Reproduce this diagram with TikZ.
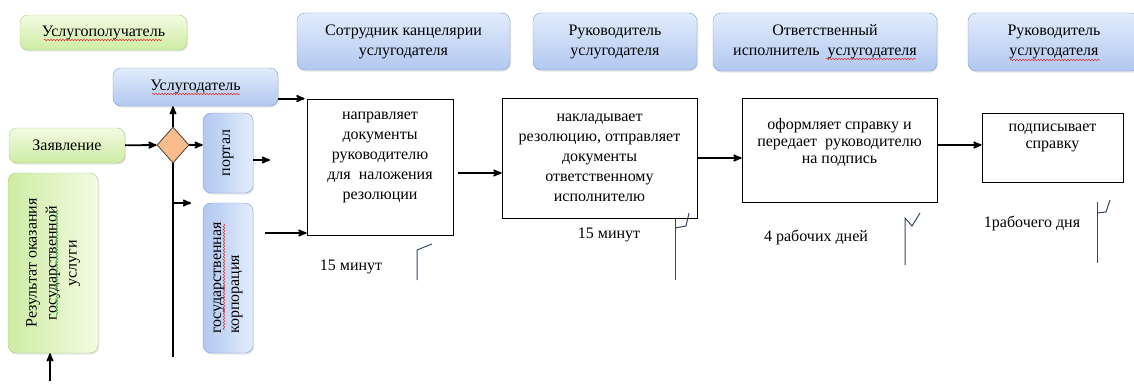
\documentclass[tikz,border=0pt]{standalone}
\usepackage{fontspec}
\setmainfont{Liberation Serif}
\usetikzlibrary{positioning}
\usetikzlibrary{arrows}
\usetikzlibrary{shapes.geometric}
\usetikzlibrary{shadows}
\usetikzlibrary{decorations.pathmorphing}
\definecolor{bluetop}{RGB}{226,236,252}
\definecolor{bluebot}{RGB}{178,200,240}
\definecolor{bluerim}{RGB}{128,158,208}
\definecolor{greentop}{RGB}{242,251,226}
\definecolor{greenbot}{RGB}{206,236,164}
\definecolor{greenrim}{RGB}{172,204,136}
\definecolor{rhombfill}{RGB}{250,188,140}
\definecolor{flagline}{RGB}{52,70,100}
\definecolor{spellred}{RGB}{225,50,50}
\definecolor{spellgreen}{RGB}{50,170,70}
\tikzset{x=1pt, y=-1pt, % One unit is one pixel, y grows downwards
every node/.style={ % Sets the text of each node
font=\fontsize{16}{20}\selectfont,
align=center},
phase/.style={ % Blue boxes, the people who do the work
draw=bluerim,
rounded corners=8pt,
top color=bluetop, bottom color=bluebot,
drop shadow={opacity=0.2, shadow xshift=1pt, shadow yshift=-1.5pt}},
sidephase/.style={ % Blue boxes with the text turned
phase,
rotate=90,
left color=bluebot, right color=bluetop},
party/.style={ % Green boxes
draw=greenrim,
rounded corners=8pt,
top color=greentop, bottom color=greenbot,
drop shadow={opacity=0.2, shadow xshift=1pt, shadow yshift=-1.5pt}},
sideparty/.style={ % Green box with the text turned
party,
rotate=90,
left color=greenbot, right color=greentop},
stepbox/.style={ % White boxes, the steps of the work
draw,
thick,
fill=white},
choice/.style={ % Orange rhomb
diamond,
draw=black!75,
thick,
fill=rhombfill,
minimum width=32pt, minimum height=36pt, inner sep=0pt},
arr/.style={ % Thick arrows
draw,
->,>=stealth',
line width=1.8pt},
timing/.style={ % Time flags under the steps
draw=flagline,
line width=1pt},
spell/.style={ % Wavy spell checker lines under some words
decorate,
decoration={snake, amplitude=0.7pt, segment length=3pt},
line width=0.6pt}}

\begin{document}
\begin{tikzpicture}
\useasboundingbox (0,0) rectangle (1134,383);

\node[party, minimum width=167pt, minimum height=35pt] (rcpt) at (103.5,32.5) {Услугополучатель};
\node[phase, minimum width=165pt, minimum height=38pt] (prov) at (195.5,87) {Услугодатель};
\node[party, minimum width=116pt, minimum height=35pt] (appl) at (67,145.5) {Заявление};
\node[choice] (dia) at (173,145) {};
\node[sidephase, minimum width=80pt, minimum height=50pt] (portal) at (228,153) {портал};
\node[sidephase, minimum width=150pt, minimum height=50pt, align=left, font=\fontsize{16}{18}\selectfont] (corp) at (228,278) {государственная\\корпорация};
\node[sideparty, minimum width=180pt, minimum height=90pt] (result) at (53,263) {Результат оказания\\государственной\\услуги};

\node[phase, minimum width=213pt, minimum height=57pt] (clerk) at (403.5,41.5) {Сотрудник канцелярии\\услугодателя};
\node[phase, minimum width=164pt, minimum height=57pt] (head) at (615,41.5) {Руководитель\\услугодателя};
\node[phase, minimum width=224pt, minimum height=58pt] (exec) at (825,42) {Ответственный\\исполнитель\ \ услугодателя};
\node[phase, minimum width=172pt, minimum height=58pt] (head2) at (1054,42) {Руководитель\\услугодателя};

\node[stepbox, minimum width=146pt, minimum height=136pt, text depth=23pt] (b1) at (380,167) {направляет\\документы\\руководителю\\для\ \ наложения\\резолюции};
\node[stepbox, minimum width=195pt, minimum height=120pt] (b2) at (599.5,158) {накладывает\\резолюцию, отправляет\\документы\\ответственному\\исполнителю};
\node[stepbox, minimum width=195pt, minimum height=104pt, text depth=18pt, font=\fontsize{16}{17}\selectfont] (b3) at (839.5,150) {оформляет справку и\\передает\ \ руководителю\\на подпись};
\node[stepbox, minimum width=141pt, minimum height=69pt, text depth=22pt, font=\fontsize{16}{17}\selectfont] (b4) at (1052.5,147.5) {подписывает\\справку};

\node (t1) at (351,267) {15 минут};
\node (t2) at (609,235) {15 минут};
\node (t3) at (816,237) {4 рабочих дней};
\node (t4) at (1032,223) {1рабочего дня};

% spell checker marks
\draw[spell, spellred] (44,40) -- (162,40);
\draw[spell, spellred] (152,94) -- (240,94);
\draw[spell, spellred] (826,59) -- (916,59);
\draw[spell, spellred] (1010,60) -- (1100,60);
\draw[spell, spellred] (224,224) -- (224,330);
\draw[spell, spellgreen] (57,210) -- (57,316);

\coordinate (pend) at (270,160);
\coordinate (vend) at (173,357);
\coordinate (fork) at (173,203);
\coordinate (forkend) at (191,203);
\coordinate (cstart) at (265,233);
\coordinate (rstart) at (50,381);
\coordinate (m12) at ([yshift=-6pt]b1.east);
\coordinate (m34) at ([yshift=5pt]b3.east);

\draw[arr] (appl) -- (dia);
\draw[arr] (dia.north) -- (dia.north |- prov.south);
\draw[arr] (dia.east) -- (dia.east -| portal.north);
\draw[arr] (portal.south |- pend) -- (pend);
\draw[line width=1.8pt] (dia.south) -- (vend);
\draw[arr] (fork) -- (forkend);
\draw[arr] (cstart) -- (cstart -| b1.west);
\draw[arr] (rstart) -- (rstart |- result.west);
\draw[arr] (prov.east |- b1.north) -- ([xshift=-2pt]b1.north west);

\draw[arr] ([xshift=5pt]m12) -- (m12 -| b2.west);
\draw[arr] (b2.east) -- (b2.east -| b3.west);
\draw[arr] (m34) -- (m34 -| b4.west);

\draw[timing] (417,280) -- (417,250) -- (432,244);
\draw[timing] (675,218) -- (675,280);
\draw[timing] (675,228) -- (686,226) -- (689,213);
\draw[timing] (905,265) -- (905,218) -- (912,226) -- (920,213);
\draw[timing] (1097,263) -- (1097,202);
\draw[timing] (1097,213) -- (1106,212) -- (1110,200);
\end{tikzpicture}
\end{document}
